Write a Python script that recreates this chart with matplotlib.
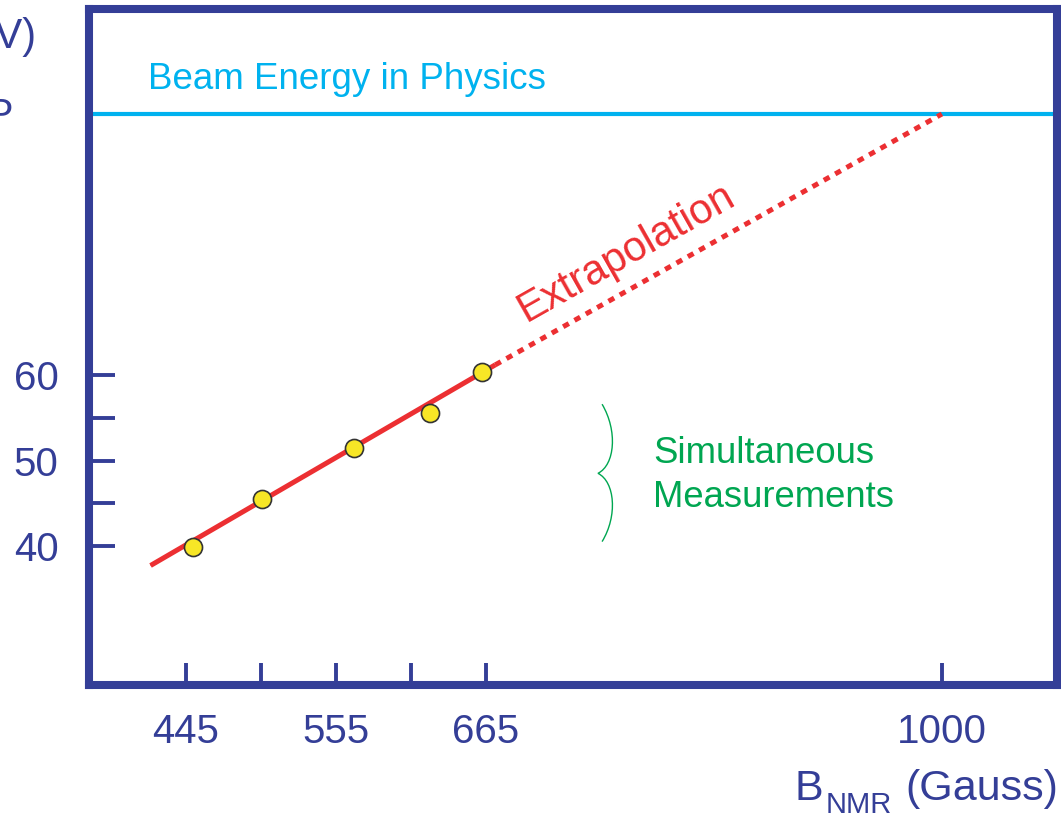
import matplotlib.pyplot as plt
from matplotlib.path import Path
from matplotlib.patches import PathPatch

plt.rcParams["font.family"] = ["Liberation Sans", "DejaVu Sans"]

NAVY = "#343e97"
RED = "#ec2f32"
BLUE = "#00b2ef"
GREEN = "#00a651"
YELLOW = "#f7e626"

# measured points (B_NMR in Gauss, beam energy in GeV)
meas_b = [450, 501, 568, 624, 662]
meas_e = [39.9, 45.5, 51.5, 55.6, 60.4]

# linear fit over the measured range and its extrapolation
fit_b = [419, 672]
fit_e = [37.7, 61.2]
extrap_b = [672, 1000]
extrap_e = [61.2, 90.6]

beam_energy = 90.6

x_ticks = [445, 500, 555, 610, 665, 1000]
x_labels = ["445", "", "555", "", "665", "1000"]
y_ticks = [40, 45, 50, 55, 60]
y_labels = ["40", "", "50", "", "60"]

fig = plt.figure(figsize=(10.61, 8.19), dpi=100)
ax = fig.add_axes([89 / 1061, 1 - 685 / 819, (1057 - 89) / 1061, (685 - 9) / 819])
ax.set_xlim(373.8, 1084.5)
ax.set_ylim(23.7, 102.9)

for side in ax.spines.values():
    side.set_color(NAVY)
    side.set_linewidth(5.8)

ax.set_xticks(x_ticks)
ax.set_xticklabels(x_labels)
ax.set_yticks(y_ticks)
ax.set_yticklabels(y_labels)
ax.tick_params(axis="x", direction="in", length=16, width=2.8, color=NAVY,
               labelcolor=NAVY, labelsize=29, pad=20)
ax.tick_params(axis="y", direction="in", length=19, width=2.8, color=NAVY,
               labelcolor=NAVY, labelsize=29, pad=22)

# beam energy line
ax.axhline(beam_energy, color=BLUE, lw=3.0, zorder=2)
ax.text(0.061, 0.882, "Beam Energy in Physics", transform=ax.transAxes,
        color=BLUE, fontsize=26.5, ha="left", va="baseline")

# fit and extrapolation
ax.plot(fit_b, fit_e, color=RED, lw=3.6, solid_capstyle="butt", zorder=3)
ax.plot(fit_b, fit_e, color=RED, lw=1.5, ls=(0, (3, 2)), zorder=3)
ax.plot(extrap_b, extrap_e, color=RED, lw=3.6, ls=(0, (1.3, 1.3)), zorder=3)
ax.plot(meas_b, meas_e, "o", ms=13, mfc=YELLOW, mec="#333333", mew=1.2, zorder=4)

ax.text(772, 73.2, "Extrapolation", color=RED, fontsize=30, rotation=29.5,
        rotation_mode="anchor", ha="center", va="baseline")

# brace next to the measured range
brace = Path(
    [(750.5, 56.6), (762, 53.5), (760, 49.5), (747.5, 48.5),
     (760, 47.5), (762, 43.5), (750.5, 40.5)],
    [Path.MOVETO, Path.CURVE4, Path.CURVE4, Path.CURVE4,
     Path.CURVE4, Path.CURVE4, Path.CURVE4],
)
ax.add_patch(PathPatch(brace, fill=False, ec=GREEN, lw=1.0))
ax.text(0.583, 0.263, "Simultaneous\nMeasurements", transform=ax.transAxes,
        color=GREEN, fontsize=26.3, ha="left", va="baseline", linespacing=1.33)

# axis labels (the y label runs off the canvas as in the original)
fig.text(795 / 1061, 1 - 800 / 819, "B", color=NAVY, fontsize=31,
         ha="left", va="baseline")
fig.text(826 / 1061, 1 - 813 / 819, "NMR", color=NAVY, fontsize=21,
         ha="left", va="baseline")
fig.text(905 / 1061, 1 - 800 / 819, "(Gauss)", color=NAVY, fontsize=31,
         ha="left", va="baseline")
fig.text(37 / 1061, 1 - 48 / 819, "(GeV)", color=NAVY, fontsize=30,
         ha="right", va="baseline")
fig.text(14 / 1061, 1 - 128 / 819, "LEP", color=NAVY, fontsize=30,
         ha="right", va="baseline")

fig.savefig("out.png", dpi=100)
